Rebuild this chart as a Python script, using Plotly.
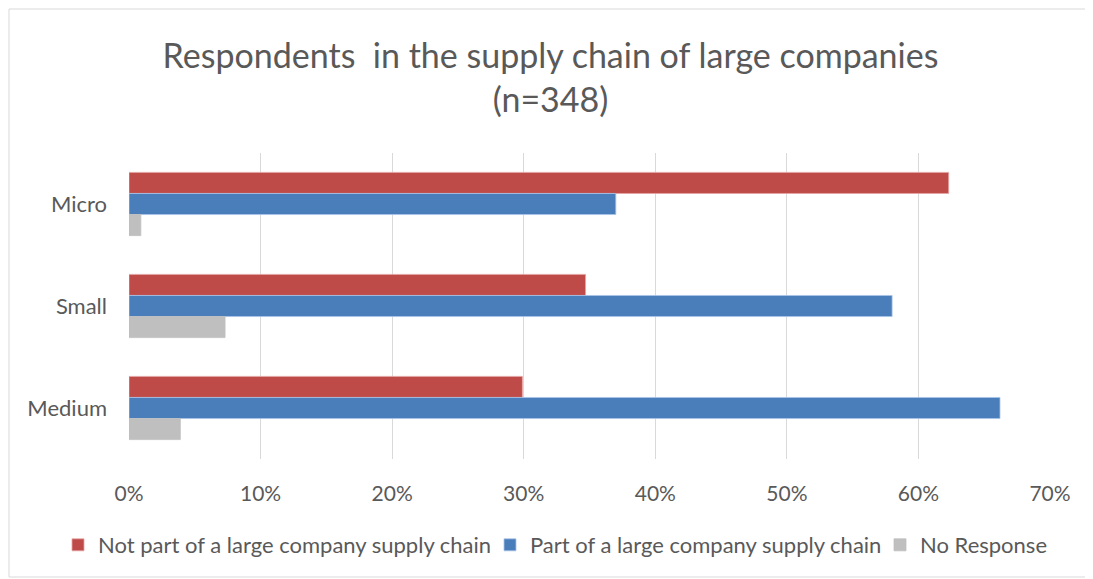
import plotly.graph_objects as go

# ── DATA ──────────────────────────────────────────────────────────────────────
categories = ["Micro", "Small", "Medium"]
not_part = [0.623, 0.347, 0.299]
part = [0.370, 0.580, 0.662]
no_response = [0.009, 0.073, 0.039]

series_names = [
    "Not part of a large company supply chain",
    "Part of a large company supply chain",
    "No Response",
]
colors = ["#BE4B48", "#4A7EBB", "#BFBFBF"]
outlines = ["#E6A5A4", "#A9C4E8", "#BFBFBF"]

# page body adds an 8px offset, so the figure is a little smaller than the window
W, H = 1085, 571
L, R, T, B = 121, 43, 145, 120
FONT = "Lato"
GREY = "#595959"

# one legend per series so the row never wraps (left edges in figure px)
legend_ids = ["legend", "legend2", "legend3"]
legend_left = [50, 482, 872]

fig = go.Figure()
for name, vals, c, oc, lg in zip(series_names, [not_part, part, no_response],
                                 colors, outlines, legend_ids):
    fig.add_trace(go.Bar(
        y=categories, x=vals, name=name, orientation="h", legend=lg,
        marker=dict(color=c, line=dict(color=oc, width=0.8)),
    ))

# outer chart border, expressed in paper coords
pw, ph = W - L - R, H - T - B
def px(x): return (x - L) / pw
def py(y): return 1 - (y - T) / ph

fig.add_shape(type="rect", xref="paper", yref="paper",
              x0=px(1), x1=px(1080), y0=py(1), y1=py(569),
              line=dict(color="#D9D9D9", width=1), fillcolor="rgba(0,0,0,0)")

legends = {}
for lg, left in zip(legend_ids, legend_left):
    legends[lg] = dict(orientation="h", xref="container", yref="container",
                       x=left / W, xanchor="left",
                       y=1 - 537 / H, yanchor="middle",
                       font=dict(family=FONT, size=22, color=GREY),
                       itemwidth=30, bgcolor="rgba(0,0,0,0)")

fig.update_layout(
    width=W, height=H,
    margin=dict(l=L, r=R, t=T, b=B, autoexpand=False),
    paper_bgcolor="white", plot_bgcolor="white",
    barmode="group", bargap=0.38, bargroupgap=0,
    font=dict(family=FONT, color=GREY, size=22),
    title=dict(
        text="Respondents  in the supply chain of large companies<br>(n=348)",
        x=0.5, xanchor="center", yref="container", y=1 - 60 / H, yanchor="middle",
        font=dict(family=FONT, size=34, color=GREY),
    ),
    showlegend=True,
    **legends,
    xaxis=dict(range=[0, 0.7], dtick=0.1, tickformat=".0%",
               showgrid=True, gridcolor="#D9D9D9", gridwidth=1,
               zeroline=False, showline=False, ticks="",
               ticklabelstandoff=20,
               tickfont=dict(size=21, color=GREY)),
    yaxis=dict(autorange="reversed", showgrid=False, showline=False,
               ticks="", ticklabelstandoff=21,
               tickfont=dict(size=22, color=GREY)),
)

fig.write_html("out.html")
